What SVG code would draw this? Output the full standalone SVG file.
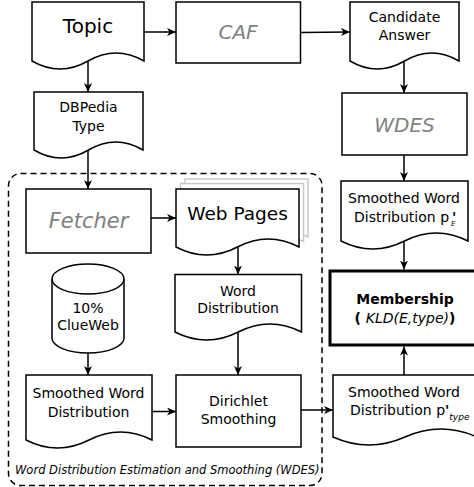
<svg xmlns="http://www.w3.org/2000/svg" width="474" height="487" viewBox="0 0 474 487">
<defs>
<marker id="ah" markerUnits="userSpaceOnUse" markerWidth="10" markerHeight="9" refX="9" refY="4" orient="auto">
<path d="M0,0 L9,4 L0,8 L2.5,4 Z" fill="#000"/>
</marker>
<style>
.n{fill:#fff;stroke:#000;stroke-width:1.5}
.sh{fill:#fff;stroke:#c8c8c8;stroke-width:1.5}
.t{font-family:"DejaVu Sans",sans-serif;font-size:14px;fill:#000;text-anchor:middle}
.big{font-size:20px}
.g{fill:#808080;font-style:italic}
.c{fill:none;stroke:#000;stroke-width:1.5;marker-end:url(#ah)}
</style>
</defs>
<rect x="8.5" y="173.5" width="313.5" height="312" rx="12" fill="none" stroke="#000" stroke-width="1.5" stroke-dasharray="6,4"/>
<text x="15" y="474" style="font-family:'DejaVu Sans',sans-serif;font-size:11.5px;font-style:italic">Word Distribution Estimation and Smoothing (WDES)</text>

<g id="topic">
<path class="n" d="M32,2 H144 V61 Q116,45 88,61 Q60,77 32,61 Z"/>
<text class="t big" x="88" y="33">Topic</text>
</g>
<g id="caf">
<rect class="n" x="176" y="2" width="124.5" height="61"/>
<text class="t big g" x="238" y="39">CAF</text>
</g>
<g id="candidate">
<path class="n" d="M350,2 H459 V61 Q431.75,45 404.5,61 Q377.25,77 350,61 Z"/>
<text class="t" x="404.5" y="22">Candidate</text>
<text class="t" x="404.5" y="40">Answer</text>
</g>
<g id="dbpedia">
<path class="n" d="M34,92 H143 V150 Q115.75,134 88.5,150 Q61.25,166 34,150 Z"/>
<text class="t" x="88.5" y="112">DBPedia</text>
<text class="t" x="88.5" y="131">Type</text>
</g>
<g id="wdes">
<rect class="n" x="342" y="93" width="125" height="62"/>
<text class="t big g" x="404.5" y="131.5">WDES</text>
</g>
<g id="fetcher">
<rect class="n" x="26" y="189" width="125" height="64"/>
<text class="t big g" x="88.5" y="227.5" style="font-size:21px">Fetcher</text>
</g>
<g id="webpages">
<path class="sh" d="M185,179 H308 V237 Q277.25,221 246.5,237 Q215.75,253 185,237 Z"/>
<path class="sh" d="M180.5,183.5 H303.5 V241.5 Q272.75,225.5 242,241.5 Q211.25,257.5 180.5,241.5 Z"/>
<path class="n" d="M176,189 H299 V247 Q268.25,231 237.5,247 Q206.75,263 176,247 Z"/>
<text class="t" x="237.5" y="219.5" style="font-size:18.5px">Web Pages</text>
</g>
<g id="smoothedE">
<path class="n" d="M341,181 H468 V241 Q436.25,225 404.5,241 Q372.75,257 341,241 Z"/>
<text class="t" x="404" y="203">Smoothed Word</text>
<text class="t" x="354" y="222" style="text-anchor:start">Distribution p<tspan x="452" y="222" font-weight="bold">'</tspan><tspan x="451" y="225.5" font-size="7" font-style="italic">E</tspan></text>
</g>
<g id="clueweb">
<path class="n" d="M52,279 A36,15 0 0 1 124,279 V338 A36,15 0 0 1 52,338 Z"/>
<path d="M52,279 A36,15 0 0 0 124,279" fill="none" stroke="#000" stroke-width="1.5"/>
<text class="t" x="88" y="313">10%</text>
<text class="t" x="88" y="330">ClueWeb</text>
</g>
<g id="worddist">
<path class="n" d="M175,274.5 H301.5 V332 Q269.9,316 238.25,332 Q206.6,348 175,332 Z"/>
<text class="t" x="238" y="296">Word</text>
<text class="t" x="238" y="313">Distribution</text>
</g>
<g id="membership">
<rect x="330" y="271" width="150" height="74" fill="#fff" stroke="#000" stroke-width="3"/>
<text class="t" x="405" y="304" font-weight="bold">Membership</text>
<text class="t" x="405" y="323"><tspan font-weight="bold">( </tspan><tspan font-style="italic">KLD(E,type)</tspan><tspan font-weight="bold">)</tspan></text>
</g>
<g id="smoothedleft">
<path class="n" d="M26,375 H152 V440 Q120.5,424 89,440 Q57.5,456 26,440 Z"/>
<text class="t" x="88.5" y="398">Smoothed Word</text>
<text class="t" x="88.5" y="417">Distribution</text>
</g>
<g id="dirichlet">
<rect class="n" x="176" y="375" width="125" height="72"/>
<text class="t" x="238.5" y="406">Dirichlet</text>
<text class="t" x="238.5" y="424">Smoothing</text>
</g>
<g id="smoothedtype">
<path class="n" d="M333,375 H477 V437 Q441,421 405,437 Q369,453 333,437 Z"/>
<text class="t" x="404" y="397">Smoothed Word</text>
<text class="t" x="350" y="415" style="text-anchor:start">Distribution p<tspan font-weight="bold">'</tspan><tspan dy="5" font-size="9" font-style="italic">type</tspan></text>
</g>

<g id="connectors">
<line class="c" x1="144" y1="32" x2="176" y2="32"/>
<line class="c" x1="300.5" y1="32.5" x2="350" y2="32"/>
<line class="c" x1="88" y1="61" x2="88" y2="92"/>
<line class="c" x1="404" y1="61" x2="404" y2="93"/>
<line class="c" x1="88" y1="150" x2="88" y2="189"/>
<line class="c" x1="404" y1="155" x2="404" y2="181"/>
<line class="c" x1="151" y1="218" x2="176" y2="218"/>
<line class="c" x1="238" y1="247" x2="238" y2="274.5"/>
<line class="c" x1="404" y1="241" x2="404" y2="269.5"/>
<line class="c" x1="88" y1="353" x2="88" y2="375"/>
<line class="c" x1="238" y1="332" x2="238" y2="375"/>
<line class="c" x1="152" y1="411.5" x2="176" y2="411.5"/>
<line class="c" x1="301" y1="410" x2="333" y2="410"/>
<line class="c" x1="404" y1="375" x2="404" y2="346.5"/>
</g>
</svg>
